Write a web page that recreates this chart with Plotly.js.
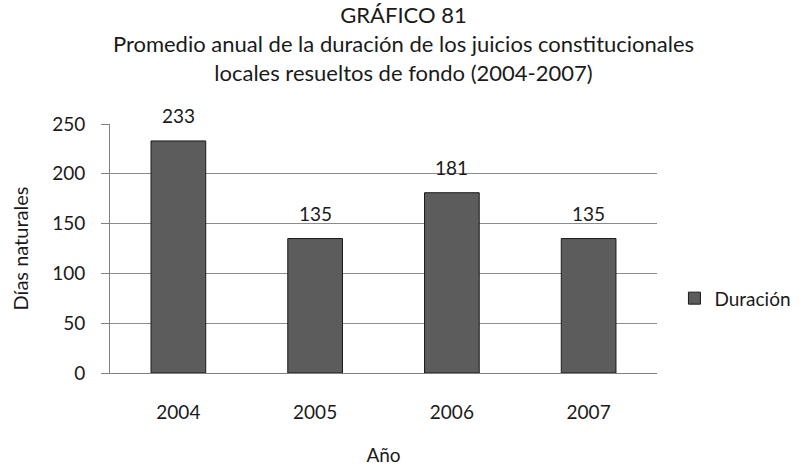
<!DOCTYPE html>
<html><head><meta charset="utf-8">
<script src="https://cdn.plot.ly/plotly-3.0.1.min.js"></script>
<style>html,body{margin:0;padding:0;background:#fff;}</style>
</head><body>
<div id="chart" style="width:807px;height:466px;"></div>
<script>
const years = ['2004', '2005', '2006', '2007'];
const duracion = [233, 135, 181, 135];
const yTicks = [0, 50, 100, 150, 200, 250];

const font = 'Lato, Open Sans, sans-serif';
const ink = '#1a1a1a';
const trace = {
  type: 'bar', x: years, y: duracion, name: 'Duración',
  marker: {color: '#5c5c5c', line: {color: '#1a1a1a', width: 1}}
};
const annotations = years.map((yr, i) => ({
  x: i, y: duracion[i], xref: 'x', yref: 'y', text: String(duracion[i]),
  showarrow: false, yanchor: 'bottom', yshift: 12,
  font: {family: font, size: 19, color: ink}
}));
const layout = {
  width: 807, height: 466,
  margin: {l: 110, r: 149, t: 124, b: 93},
  paper_bgcolor: '#fff', plot_bgcolor: '#fff',
  bargap: 0.6,
  font: {family: font, color: ink},
  title: {text: 'GRÁFICO 81<br>Promedio anual de la duración de los juicios constitucionales<br>locales resueltos de fondo (2004-2007)',
    font: {family: font, size: 22, color: ink}, x: 0.5, xanchor: 'center', yref: 'container', y: 0.95, yanchor: 'middle'},
  xaxis: {type: 'category', range: [-0.5, 3.5], showgrid: false, showline: true, linecolor: '#808080', linewidth: 1,
    ticks: '', ticklabelstandoff: 22, tickfont: {family: font, size: 19, color: ink},
    title: {text: 'Año', font: {family: font, size: 19, color: ink}, standoff: 33}},
  yaxis: {range: [0, 250], tickvals: yTicks, showgrid: true, gridcolor: '#8c8c8c', gridwidth: 1,
    showline: true, linecolor: '#808080', ticks: 'outside', ticklen: 8, tickcolor: '#808080',
    ticklabelstandoff: 12,
    zeroline: false, tickfont: {family: font, size: 19, color: ink},
    title: {text: 'Días naturales', font: {family: font, size: 20, color: ink}, standoff: 18}},
  annotations: annotations,
  showlegend: true,
  legend: {x: 1.03, xanchor: 'left', y: 0.30, yanchor: 'middle', font: {family: font, size: 19, color: ink},
    itemwidth: 30, bgcolor: 'rgba(0,0,0,0)'}
};
Plotly.newPlot('chart', [trace], layout, {displayModeBar: false, staticPlot: true});
</script>
</body></html>
